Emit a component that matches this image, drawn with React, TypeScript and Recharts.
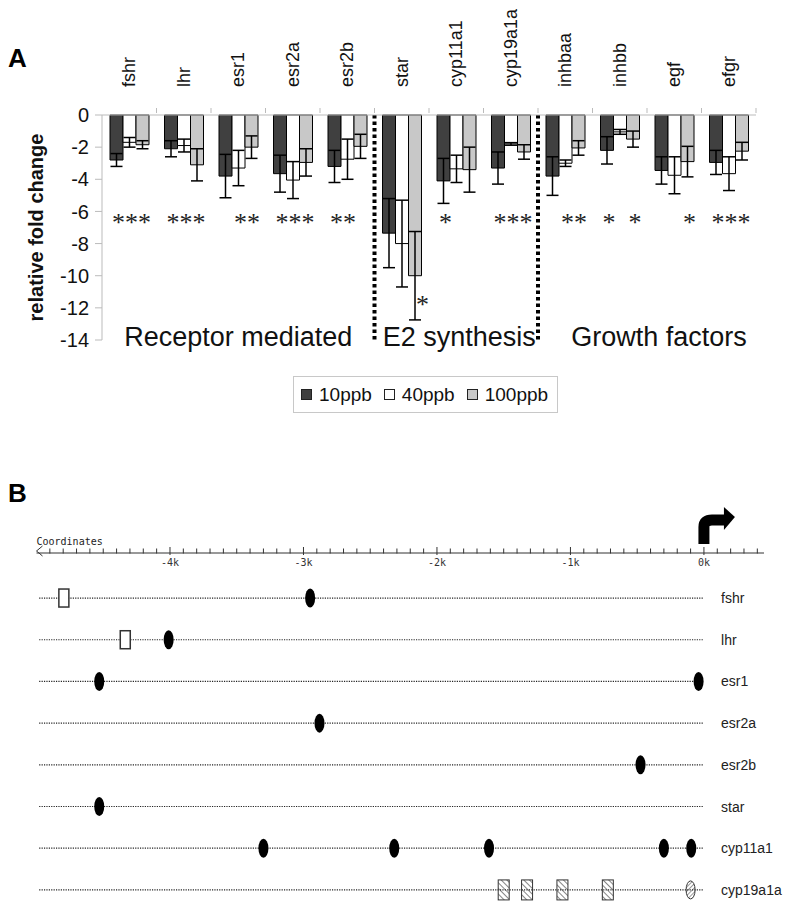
import React from "react";
import {
  BarChart,
  Bar,
  XAxis,
  YAxis,
  ErrorBar,
  LabelList,
  ReferenceLine,
  ReferenceArea,
  Legend,
  ScatterChart,
  Scatter,
} from "recharts";

const FONT = "'Liberation Sans', Arial, sans-serif";
const MONO = "'DejaVu Sans Mono', monospace";

// ---- panel A: relative fold change ----
const genes = ["fshr", "lhr", "esr1", "esr2a", "esr2b", "star", "cyp11a1", "cyp19a1a", "inhbaa", "inhbb", "egf", "efgr"];
const seriesNames = ["10ppb", "40ppb", "100ppb"];
const mean10 = [-2.8, -2.1, -3.8, -3.65, -3.2, -7.35, -4.1, -3.3, -3.8, -2.2, -3.45, -2.95];
const err10 = [0.4, 0.5, 1.35, 1.15, 1.0, 2.15, 1.4, 1.0, 1.2, 0.85, 0.85, 0.75];
const mean40 = [-1.7, -1.9, -3.3, -4.05, -2.75, -8.0, -3.35, -1.8, -3.0, -1.05, -3.75, -3.65];
const err40 = [0.3, 0.4, 1.1, 1.15, 1.25, 2.7, 0.85, 0.08, 0.2, 0.15, 1.15, 1.05];
const mean100 = [-1.85, -3.1, -2.0, -2.95, -1.95, -10.0, -3.4, -2.3, -2.05, -1.5, -2.9, -2.25];
const err100 = [0.25, 1.0, 0.7, 0.85, 0.75, 2.75, 1.4, 0.45, 0.45, 0.5, 0.95, 0.55];
// level at which the significance mark sits (0 = none)
const sig10 = [-6.5, -6.5, 0, -6.5, -6.5, 0, -6.5, -6.5, 0, -6.5, 0, -6.5];
const sig40 = [-6.5, -6.5, -6.5, -6.5, -6.5, 0, 0, -6.5, -6.5, 0, 0, -6.5];
const sig100 = [-6.5, -6.5, -6.5, -6.5, 0, -11.6, 0, -6.5, -6.5, -6.5, -6.5, -6.5];
const yTicks = [0, -2, -4, -6, -8, -10, -12, -14];
const groupNames = ["Receptor mediated", "E2 synthesis", "Growth factors"];
const groupFirst = ["fshr", "star", "inhbaa"];
const groupLast = ["esr2b", "cyp19a1a", "efgr"];
const groupShift = [0, 3, 12];
const separators = ["star", "inhbaa"];

const data = genes.map((g, i) => ({
  gene: g,
  v10: mean10[i], e10: err10[i], s10: sig10[i],
  v40: mean40[i], e40: err40[i], s40: sig40[i],
  v100: mean100[i], e100: err100[i], s100: sig100[i],
}));

// ---- panel B: promoter map ----
const rowGenes = ["fshr", "lhr", "esr1", "esr2a", "esr2b", "star", "cyp11a1", "cyp19a1a"];
const ovalPos = [-2950, -4010, -4530, -40, -2880, -475, -4530, -3300, -2320, -1610, -300, -95];
const ovalRow = [0, 1, 2, 2, 3, 4, 5, 6, 6, 6, 6, 6];
const boxPos = [-4795, -4335];
const boxRow = [0, 1];
const hatchBoxPos = [-1500, -1325, -1060, -720];
const hatchBoxRow = [7, 7, 7, 7];
const hatchOvalPos = [-100];
const hatchOvalRow = [7];
const coordTicks = Array.from({ length: 55 }, (_, i) => -5000 + i * 100);
const lineStart = -4980;
const lineEnd = 0;
const rowLabelPos = 128;

const toPts = (pos: number[], row: number[]) => pos.map((p, i) => ({ pos: p, row: row[i] }));
const rowLabelPts = rowGenes.map((g, i) => ({ pos: rowLabelPos, row: i, gene: g }));

const makeSig = (means: number[]) => (props: any) => {
  const { value, index } = props;
  if (!value) return null;
  const vb = props.viewBox ?? props;
  const h = Math.abs(vb.height);
  const zeroY = Math.min(vb.y, vb.y + vb.height);
  const ppu = h / Math.abs(means[index]);
  const cy = zeroY + Math.abs(value) * ppu;
  const cx = vb.x + vb.width / 2 + (value < -8 ? vb.width / 2 + 1 : 2);
  return (
    <text x={cx} y={cy + 12} textAnchor="middle" fontSize={26} fontFamily="'Liberation Serif', serif" fill="#222">
      *
    </text>
  );
};

const GeneTick = (props: any) => {
  const { x, y, payload } = props;
  const half = payload.offset || 27;
  const ty = y - 26;
  return (
    <g>
      <line x1={x + half} y1={y} x2={x + half} y2={y - 5} stroke="#bbb" />
      <text x={x} y={ty} transform={`rotate(-90, ${x}, ${ty})`} textAnchor="start" dominantBaseline="central"
        fontSize={18} fontFamily={FONT} fill="#111">
        {payload.value}
      </text>
    </g>
  );
};

const YTitle = (props: any) => {
  const vb = props.viewBox;
  const cx = 36;
  const cy = vb.y + vb.height / 2;
  return (
    <text x={cx} y={cy} transform={`rotate(-90, ${cx}, ${cy})`} textAnchor="middle" dominantBaseline="central"
      fontSize={20} fontWeight="bold" fontFamily={FONT} fill="#111">
      relative fold change
    </text>
  );
};

const GroupLabel = (props: any) => {
  const { viewBox, text, shift } = props;
  return (
    <text x={viewBox.x + viewBox.width / 2 + shift} y={viewBox.y + viewBox.height + 6} textAnchor="middle"
      fontSize={27} fontFamily={FONT} fill="#111">
      {text}
    </text>
  );
};

const LegendBox = (props: any) => {
  const items = [...(props.payload || [])].sort(
    (a: any, b: any) => seriesNames.indexOf(a.value) - seriesNames.indexOf(b.value)
  );
  return (
    <div style={{ display: "flex", alignItems: "center", border: "1px solid #c8c8c8", height: 35, padding: "0 9px 0 7px", fontFamily: FONT, fontSize: 19, color: "#111", background: "#fff" }}>
      {items.map((p: any, i: number) => (
        <span key={i} style={{ display: "flex", alignItems: "center", marginRight: i < 2 ? 12 : 0 }}>
          <span style={{ width: 9, height: 9, background: p.color, border: "1px solid #222", marginRight: 7 }} />
          {p.value}
        </span>
      ))}
    </div>
  );
};

const CoordTick = (props: any) => {
  const { x, y, payload } = props;
  const v = payload.value;
  if (v === -5000) {
    return (
      <g>
        <polyline points={`${x + 6},${y - 5} ${x},${y} ${x + 6},${y + 5}`} fill="none" stroke="#333" />
        <text x={x} y={y - 6} fontSize={10} fontFamily={MONO} fill="#222">Coordinates</text>
      </g>
    );
  }
  const major = v % 1000 === 0;
  return (
    <g>
      <line x1={x} y1={y - (major ? 4 : 2.5)} x2={x} y2={y + (major ? 4 : 2.5)} stroke="#333" />
      {major && (
        <text x={x} y={y + 15} textAnchor="middle" fontSize={10} fontFamily={MONO} fill="#333">
          {`${v / 1000}k`}
        </text>
      )}
      {v === 0 && (
        <g>
          <path d={`M ${x} ${y - 7} L ${x} ${y - 24} Q ${x} ${y - 31} ${x + 8} ${y - 31} L ${x + 21} ${y - 31}`}
            fill="none" stroke="#000" strokeWidth={11} />
          <polygon points={`${x + 20},${y - 44} ${x + 31},${y - 34} ${x + 20},${y - 21}`} fill="#000" />
        </g>
      )}
    </g>
  );
};

const RowLabel = (p: any) => (
  <text x={p.cx} y={p.cy} dominantBaseline="central" fontSize={14} fontFamily={FONT} fill="#222">
    {p.payload.gene}
  </text>
);

const Oval = (p: any) => <ellipse cx={p.cx} cy={p.cy} rx={5} ry={9.5} fill="#000" />;
const OpenBox = (p: any) => (
  <rect x={p.cx - 5} y={p.cy - 9} width={10} height={18} fill="#fff" stroke="#333" strokeWidth={1.5} />
);
const HatchBox = (p: any) => (
  <g>
    <defs>
      <pattern id="hatchDown" width="4" height="4" patternUnits="userSpaceOnUse" patternTransform="rotate(-45)">
        <line x1="0" y1="0" x2="0" y2="4" stroke="#333" strokeWidth="1.2" />
      </pattern>
    </defs>
    <rect x={p.cx - 5.5} y={p.cy - 10} width={11} height={20} fill="url(#hatchDown)" stroke="#333" strokeWidth={1} />
  </g>
);
const HatchOval = (p: any) => (
  <g>
    <defs>
      <pattern id="hatchUp" width="3" height="3" patternUnits="userSpaceOnUse" patternTransform="rotate(45)">
        <line x1="0" y1="0" x2="0" y2="3" stroke="#333" strokeWidth="1" />
      </pattern>
    </defs>
    <ellipse cx={p.cx} cy={p.cy} rx={4.5} ry={9} fill="url(#hatchUp)" stroke="#333" strokeWidth={1} />
  </g>
);

const panelLetter = (t: string, top: number) => (
  <span style={{ position: "absolute", left: 8, top, fontFamily: FONT, fontWeight: "bold", fontSize: 26, lineHeight: 1, color: "#000" }}>
    {t}
  </span>
);

export default function App() {
  return (
    <div style={{ position: "absolute", left: 0, top: 0, width: 800, height: 911, background: "#fff" }}>
      <div style={{ position: "absolute", left: 0, top: 0 }}>
        <BarChart width={800} height={430} data={data} barGap={0}
          margin={{ top: 55, right: 44, left: 42, bottom: 90 }}>
          <XAxis dataKey="gene" orientation="top" height={60} tickSize={0} tickLine={false}
            axisLine={{ stroke: "#bbb" }} tick={<GeneTick />} interval={0} />
          <YAxis type="number" domain={[-14, 0]} ticks={yTicks} width={60} tickSize={7} tickMargin={6}
            axisLine={{ stroke: "#bbb" }} tickLine={{ stroke: "#bbb" }}
            tick={{ fontSize: 20, fill: "#111", fontFamily: FONT }} label={<YTitle />} />
          {groupNames.map((g, i) => (
            <ReferenceArea key={g} x1={groupFirst[i]} x2={groupLast[i]} y1={-14} y2={-13}
              fill="none" stroke="none" label={<GroupLabel text={g} shift={groupShift[i]} />} />
          ))}
          {separators.map((s) => (
            <ReferenceLine key={s} x={s} position="start" stroke="#000" strokeWidth={4} strokeDasharray="3.5 3" />
          ))}
          <Bar dataKey="v10" name="10ppb" fill="#404040" stroke="#000" barSize={13} isAnimationActive={false}>
            <ErrorBar dataKey="e10" width={6} stroke="#000" strokeWidth={1.5} />
            <LabelList dataKey="s10" content={makeSig(mean10)} />
          </Bar>
          <Bar dataKey="v40" name="40ppb" fill="#ffffff" stroke="#000" barSize={13} isAnimationActive={false}>
            <ErrorBar dataKey="e40" width={6} stroke="#000" strokeWidth={1.5} />
            <LabelList dataKey="s40" content={makeSig(mean40)} />
          </Bar>
          <Bar dataKey="v100" name="100ppb" fill="#c8c8c8" stroke="#000" barSize={13} isAnimationActive={false}>
            <ErrorBar dataKey="e100" width={6} stroke="#000" strokeWidth={1.5} />
            <LabelList dataKey="s100" content={makeSig(mean100)} />
          </Bar>
          <Legend layout="horizontal" verticalAlign="middle" align="center" content={<LegendBox />}
            wrapperStyle={{ left: 293, top: 376, width: "auto" }} />
        </BarChart>
      </div>
      {panelLetter("A", 45)}
      {panelLetter("B", 480)}
      <div style={{ position: "absolute", left: 0, top: 470 }}>
        <ScatterChart width={800} height={441} margin={{ top: 53, right: 36, left: 36.5, bottom: 4.4 }}>
          <XAxis type="number" dataKey="pos" orientation="top" domain={[-5000, 450]} ticks={coordTicks}
            interval={0} height={30} tickSize={0} tickLine={false} axisLine={{ stroke: "#333" }}
            tick={<CoordTick />} />
          <YAxis type="number" dataKey="row" domain={[-1.08, 7.4]} reversed hide />
          {rowGenes.map((g, i) => (
            <ReferenceLine key={g} segment={[{ x: lineStart, y: i }, { x: lineEnd, y: i }]}
              stroke="#222" strokeWidth={1.2} strokeDasharray="1.2 1.2" />
          ))}
          <Scatter data={toPts(ovalPos, ovalRow)} shape={<Oval />} isAnimationActive={false} />
          <Scatter data={toPts(boxPos, boxRow)} shape={<OpenBox />} isAnimationActive={false} />
          <Scatter data={toPts(hatchBoxPos, hatchBoxRow)} shape={<HatchBox />} isAnimationActive={false} />
          <Scatter data={toPts(hatchOvalPos, hatchOvalRow)} shape={<HatchOval />} isAnimationActive={false} />
          <Scatter data={rowLabelPts} shape={<RowLabel />} isAnimationActive={false} />
        </ScatterChart>
      </div>
    </div>
  );
}
